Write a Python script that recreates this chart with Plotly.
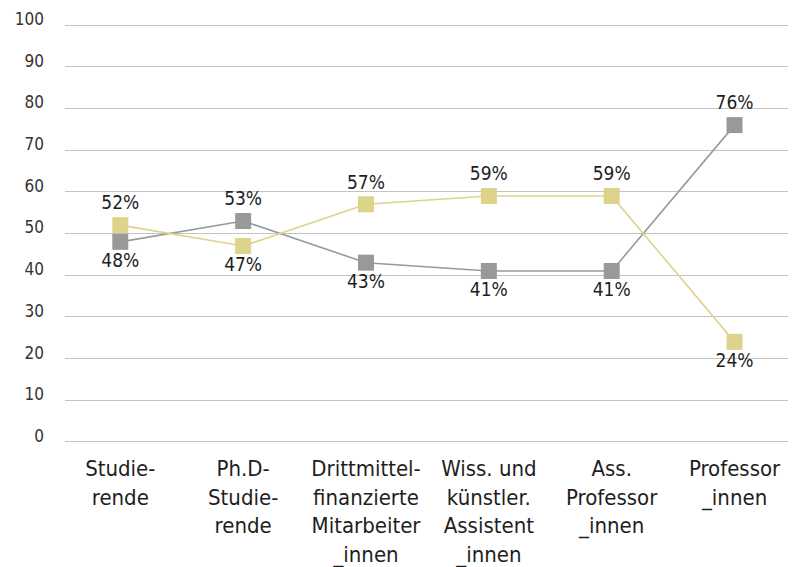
import plotly.graph_objects as go

# categories and shares (%)
categories = ['Studie-<br>rende', 'Ph.D-<br>Studie-<br>rende', 'Drittmittel-<br>finanzierte<br>Mitarbeiter<br>_innen',
              'Wiss. und<br>künstler.<br>Assistent<br>_innen', 'Ass.<br>Professor<br>_innen', 'Professor<br>_innen']
frauen = [52, 47, 57, 59, 59, 24]
maenner = [48, 53, 43, 41, 41, 76]

YELLOW = '#ddd38a'
GRAY = '#979a99'
FONT = 'Liberation Sans Narrow, DejaVu Sans Condensed, sans-serif'

x = list(range(len(categories)))

def positions(vals, other):
    # higher value gets label above, lower one below
    return ['top center' if v > o else 'bottom center' for v, o in zip(vals, other)]

fig = go.Figure()
fig.add_scatter(x=x, y=maenner, mode='lines+markers+text', name='Männer',
                line=dict(color=GRAY, width=1.6),
                marker=dict(symbol='square', size=16, color=GRAY),
                text=[f'{v}%' for v in maenner], textposition=positions(maenner, frauen),
                textfont=dict(size=19, color='#1e1e1e', family=FONT))
fig.add_scatter(x=x, y=frauen, mode='lines+markers+text', name='Frauen',
                line=dict(color=YELLOW, width=1.6),
                marker=dict(symbol='square', size=16, color=YELLOW),
                text=[f'{v}%' for v in frauen], textposition=positions(frauen, maenner),
                textfont=dict(size=19, color='#1e1e1e', family=FONT))

# page body has an 8px margin, so margins are set with that offset in mind
fig.update_layout(width=796, height=567, showlegend=False,
                  margin=dict(l=57, r=8, t=15, b=131),
                  plot_bgcolor='white', paper_bgcolor='white',
                  font=dict(family=FONT, color='#1e1e1e'))
fig.update_xaxes(range=[-0.45, 5.5], tickvals=x, ticktext=categories, showgrid=False,
                 zeroline=False, showline=False, ticks='', automargin=False,
                 ticklabelstandoff=9, tickfont=dict(size=22))
fig.update_yaxes(range=[-0.5, 100.5], dtick=10, showgrid=True, gridcolor='#c4c4c4', gridwidth=1.3,
                 zeroline=True, zerolinecolor='#c4c4c4', zerolinewidth=1.3,
                 ticklabelstandoff=20, ticklabelshift=-6, automargin=False,
                 tickfont=dict(size=17, color='#333333'))

fig.write_html("out.html")
